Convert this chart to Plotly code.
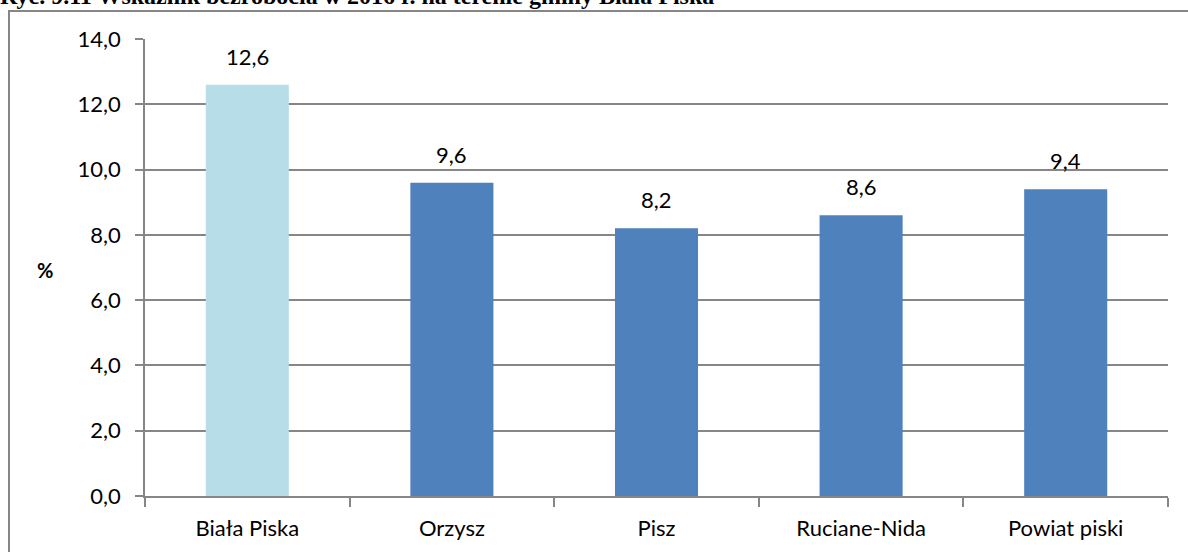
import plotly.graph_objects as go

# Unemployment rate 2016 by commune
categories = ["Biała Piska", "Orzysz", "Pisz", "Ruciane-Nida", "Powiat piski"]
values = [12.6, 9.6, 8.2, 8.6, 9.4]
bar_colors = ["#B7DDE8", "#4F81BD", "#4F81BD", "#4F81BD", "#4F81BD"]
y_ticks = [0, 2, 4, 6, 8, 10, 12, 14]

W, H = 1188, 552
L, R, T, B = 145, 20, 39, 56
pw, ph = W - L - R, H - T - B


def px_x(x):
    return (x - L) / pw


def px_y(y):
    return (H - B - y) / ph


font_family = "Lato, 'Open Sans', sans-serif"

fig = go.Figure(
    go.Bar(
        x=categories,
        y=values,
        marker=dict(color=bar_colors, line=dict(width=0)),
        width=0.406,
        hoverinfo="skip",
    )
)

# Value labels above bars
for cat, v in zip(categories, values):
    fig.add_annotation(
        x=cat, y=v, xref="x", yref="y",
        text=f"{v:.1f}".replace(".", ","),
        showarrow=False,
        yanchor="bottom", xanchor="center",
        yshift=13,
        font=dict(size=22, family=font_family, color="#000000"),
    )

fig.update_layout(
    width=W,
    height=H,
    margin=dict(l=L, r=R, t=T, b=B),
    paper_bgcolor="#FFFFFF",
    plot_bgcolor="#FFFFFF",
    separators=", ",
    showlegend=False,
    font=dict(family=font_family, size=22, color="#000000"),
    xaxis=dict(
        type="category",
        showgrid=False,
        showline=True,
        linecolor="#868686",
        linewidth=1.5,
        ticks="outside",
        tickson="boundaries",
        ticklen=9,
        tickcolor="#868686",
        tickwidth=1.5,
        tickfont=dict(size=22),
        ticklabelstandoff=12,
        range=[-0.5, 4.5],
    ),
    yaxis=dict(
        range=[0, 14],
        tickvals=y_ticks,
        tickformat=".1f",
        showgrid=True,
        gridcolor="#868686",
        gridwidth=1.5,
        showline=True,
        linecolor="#868686",
        linewidth=1.5,
        ticks="outside",
        ticklen=8,
        tickcolor="#868686",
        tickwidth=1.5,
        tickfont=dict(size=22),
        ticklabelstandoff=10,
        zeroline=False,
    ),
    bargap=0.6,
)

# Outer chart frame
fig.add_shape(
    type="rect",
    xref="paper", yref="paper",
    x0=px_x(9), x1=px_x(W + 20),
    y0=px_y(H + 20), y1=px_y(11),
    line=dict(color="#868686", width=2),
    fillcolor="rgba(0,0,0,0)",
    layer="below",
)

# Axis unit
fig.add_annotation(
    xref="paper", yref="paper",
    x=px_x(45), y=px_y(270),
    text="<b>%</b>", showarrow=False,
    font=dict(size=20, family=font_family, color="#000000"),
    xanchor="center", yanchor="middle",
)

# Figure caption
fig.add_annotation(
    xref="paper", yref="paper",
    x=px_x(-2), y=px_y(11),
    text="<b>Ryc. 9.11 Wskaźnik bezrobocia w 2016 r. na terenie gminy Biała Piska</b>",
    showarrow=False,
    font=dict(size=24, family="'Liberation Serif', serif", color="#000000"),
    xanchor="left", yanchor="bottom",
)

fig.write_html("out.html")
